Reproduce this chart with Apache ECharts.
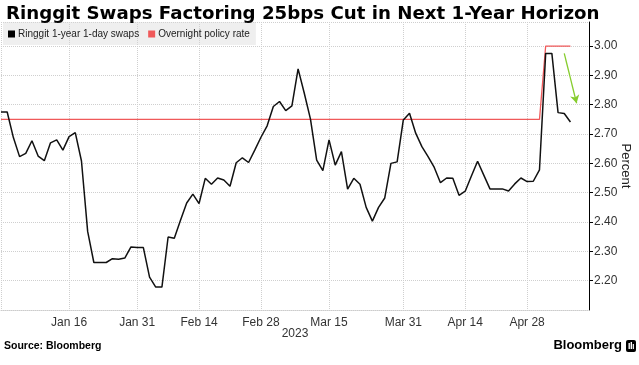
<!DOCTYPE html>
<html>
<head>
<meta charset="utf-8">
<script src="https://cdn.jsdelivr.net/npm/echarts@6/dist/echarts.min.js"></script>
<style>
  html, body { margin: 0; padding: 0; background: #fff; }
  #chart { width: 639px; height: 365px; }
</style>
</head>
<body>
<div id="chart"></div>
<script>
// ---- Data ----
// Business-day categories from 2022-12-30 to 2023-05-12
const startDate = '2022-12-30';
const endDate = '2023-05-12';

// Ringgit 1-year 1-day swaps (Dec 30 .. May 9), one value per business day
const swapsValues = [
  2.775, 2.775, 2.688, 2.623, 2.634, 2.677, 2.625, 2.609, 2.670, 2.680,
  2.645, 2.691, 2.705, 2.608, 2.368, 2.262, 2.262, 2.262, 2.275, 2.273,
  2.277, 2.315, 2.313, 2.313, 2.212, 2.178, 2.178, 2.349, 2.345, 2.406,
  2.465, 2.495, 2.463, 2.549, 2.529, 2.550, 2.543, 2.522, 2.602, 2.619,
  2.603, 2.645, 2.689, 2.728, 2.794, 2.811, 2.780, 2.796, 2.922, 2.839,
  2.751, 2.611, 2.575, 2.680, 2.594, 2.640, 2.512, 2.549, 2.529, 2.450,
  2.403, 2.450, 2.482, 2.600, 2.605, 2.748, 2.771, 2.703, 2.657, 2.623,
  2.586, 2.534, 2.550, 2.549, 2.491, 2.505, 2.557, 2.607, 2.560, 2.513,
  2.513, 2.513, 2.506, 2.530, 2.550, 2.538, 2.539, 2.578, 2.975, 2.975,
  2.773, 2.770, 2.741
];

// Overnight policy rate (Dec 30 .. May 9)
const policyValues = [
  2.75, 2.75, 2.75, 2.75, 2.75, 2.75, 2.75, 2.75, 2.75, 2.75,
  2.75, 2.75, 2.75, 2.75, 2.75, 2.75, 2.75, 2.75, 2.75, 2.75,
  2.75, 2.75, 2.75, 2.75, 2.75, 2.75, 2.75, 2.75, 2.75, 2.75,
  2.75, 2.75, 2.75, 2.75, 2.75, 2.75, 2.75, 2.75, 2.75, 2.75,
  2.75, 2.75, 2.75, 2.75, 2.75, 2.75, 2.75, 2.75, 2.75, 2.75,
  2.75, 2.75, 2.75, 2.75, 2.75, 2.75, 2.75, 2.75, 2.75, 2.75,
  2.75, 2.75, 2.75, 2.75, 2.75, 2.75, 2.75, 2.75, 2.75, 2.75,
  2.75, 2.75, 2.75, 2.75, 2.75, 2.75, 2.75, 2.75, 2.75, 2.75,
  2.75, 2.75, 2.75, 2.75, 2.75, 2.75, 2.75, 2.75, 3.00, 3.00,
  3.00, 3.00, 3.00
];

// Dates carrying x tick labels / vertical grid lines
const tickDates = ['2023-01-16', '2023-01-31', '2023-02-14', '2023-02-28',
                   '2023-03-15', '2023-03-31', '2023-04-14', '2023-04-28'];
const yearLabel = '2023';
const yTicks = { min: 2.1, max: 3.082, interval: 0.1 };

// Arrow annotation (category, value)
const arrowFrom = ['2023-05-08', 2.975];
const arrowTo = ['2023-05-10', 2.805];

const seriesNames = ['Ringgit 1-year 1-day swaps', 'Overnight policy rate'];
const titleText = 'Ringgit Swaps Factoring 25bps Cut in Next 1-Year Horizon';
const sourceText = 'Source: Bloomberg';
const brandText = 'Bloomberg';

// ---- Build business-day categories ----
function pad(n) { return (n < 10 ? '0' : '') + n; }
const categories = [];
{
  const d = new Date(startDate + 'T00:00:00Z');
  const e = new Date(endDate + 'T00:00:00Z');
  while (d <= e) {
    const wd = d.getUTCDay();
    if (wd !== 0 && wd !== 6) {
      categories.push(d.getUTCFullYear() + '-' + pad(d.getUTCMonth() + 1) + '-' + pad(d.getUTCDate()));
    }
    d.setUTCDate(d.getUTCDate() + 1);
  }
}
const MONTHS = ['Jan','Feb','Mar','Apr','May','Jun','Jul','Aug','Sep','Oct','Nov','Dec'];
function fmtDate(s) {
  const p = s.split('-');
  return MONTHS[parseInt(p[1], 10) - 1] + ' ' + parseInt(p[2], 10);
}

const chart = echarts.init(document.getElementById('chart'), null, { renderer: 'canvas' });

const option = {
  animation: false,
  backgroundColor: '#ffffff',
  title: {
    text: titleText,
    left: 1,
    top: 0,
    textStyle: { fontFamily: 'DejaVu Sans', fontWeight: 'bold', fontSize: 18.2, color: '#000' }
  },
  legend: {
    left: 3,
    top: 22,
    orient: 'horizontal',
    icon: 'rect',
    itemWidth: 7,
    itemHeight: 7,
    itemGap: 9,
    padding: [7, 6, 6, 5],
    backgroundColor: 'rgba(215,215,215,0.4)',
    textStyle: { fontFamily: 'Liberation Sans', fontSize: 10, color: '#222', padding: [0, 0, 0, -2] },
    data: [
      { name: seriesNames[0], itemStyle: { color: '#000' } },
      { name: seriesNames[1], itemStyle: { color: '#f0595a' } }
    ]
  },
  grid: { left: 1, right: 50, top: 22, bottom: 55, containLabel: false, outerBoundsMode: 'none' },
  xAxis: {
    type: 'category',
    data: categories,
    boundaryGap: false,
    name: yearLabel,
    nameLocation: 'middle',
    nameGap: 18,
    nameMoveOverlap: false,
    nameTextStyle: { fontFamily: 'Liberation Sans', fontSize: 12, color: '#333' },
    axisLine: { show: true, lineStyle: { color: '#cccccc', type: 'dotted', width: 1 } },
    axisTick: { show: false },
    axisLabel: {
      interval: function (idx, val) { return tickDates.indexOf(val) >= 0; },
      formatter: function (val) { return fmtDate(val); },
      fontFamily: 'Liberation Sans',
      fontSize: 12,
      color: '#333',
      margin: 7
    },
    splitLine: {
      show: true,
      interval: function (idx, val) { return idx === 0 || tickDates.indexOf(val) >= 0; },
      lineStyle: { color: '#cfcfcf', type: 'dotted', width: 1 }
    }
  },
  yAxis: {
    type: 'value',
    position: 'right',
    min: yTicks.min,
    max: yTicks.max,
    interval: yTicks.interval,
    name: 'Percent',
    nameLocation: 'middle',
    nameRotate: -90,
    nameGap: 30,
    nameMoveOverlap: false,
    nameTextStyle: { fontFamily: 'Liberation Sans', fontSize: 13, color: '#222' },
    axisLine: { show: true, lineStyle: { color: '#000', width: 1 } },
    axisTick: { show: true, length: 4, lineStyle: { color: '#000' } },
    axisLabel: {
      showMinLabel: false,
      showMaxLabel: false,
      formatter: function (v) { return v.toFixed(2); },
      fontFamily: 'Liberation Sans',
      fontSize: 12,
      color: '#333',
      margin: 5
    },
    splitLine: { show: true, lineStyle: { color: '#cfcfcf', type: 'dotted', width: 1 } }
  },
  series: [
    {
      name: seriesNames[1],
      type: 'line',
      data: policyValues,
      symbol: 'none',
      lineStyle: { color: '#f0595a', width: 1.3 },
      itemStyle: { color: '#f0595a' },
      z: 2
    },
    {
      name: seriesNames[0],
      type: 'line',
      data: swapsValues,
      symbol: 'none',
      lineStyle: { color: '#111', width: 1.5 },
      itemStyle: { color: '#000' },
      z: 3,
      markLine: {
        silent: true,
        symbol: ['none', 'arrow'],
        symbolSize: [7, 8],
        label: { show: false },
        lineStyle: { color: '#86cc2e', width: 1.3, type: 'solid' },
        data: [[{ coord: arrowFrom }, { coord: arrowTo }]]
      }
    }
  ],
  graphic: [
    {
      type: 'text', left: 4, top: 341,
      style: { text: sourceText, font: 'bold 10.5px "Liberation Sans"', fill: '#000' }
    },
    {
      type: 'text', right: 17, top: 339,
      style: { text: brandText, font: 'bold 13px "Liberation Sans"', fill: '#000' }
    },
    {
      type: 'group', right: 3, top: 340,
      children: [
        { type: 'rect', shape: { x: 0, y: 0, width: 10, height: 12, r: 2 }, style: { fill: '#000' } },
        { type: 'rect', shape: { x: 2.5, y: 3, width: 1.4, height: 6 }, style: { fill: '#fff' } },
        { type: 'rect', shape: { x: 4.6, y: 2, width: 1.4, height: 7 }, style: { fill: '#fff' } },
        { type: 'rect', shape: { x: 6.7, y: 4, width: 1.2, height: 5 }, style: { fill: '#fff' } }
      ]
    }
  ]
};

chart.setOption(option);
</script>
</body>
</html>
